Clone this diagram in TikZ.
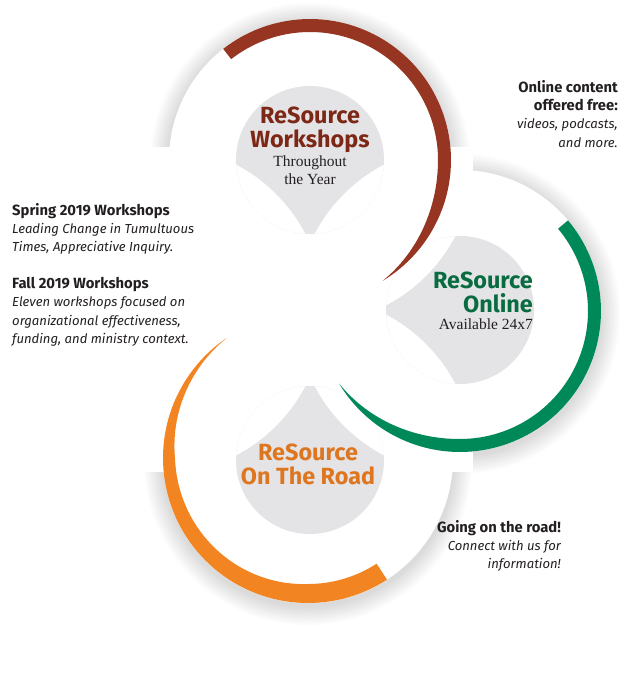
\documentclass[tikz,border=0pt]{standalone}
\usepackage{fontspec}
\setsansfont{Fira Sans}
\newfontfamily\titleserif{Liberation Serif}
\usetikzlibrary{positioning}

\definecolor{wsbrown}{RGB}{150,54,34}
\definecolor{wstext}{RGB}{125,40,22}
\definecolor{olgreen}{RGB}{0,137,88}
\definecolor{oltext}{RGB}{8,108,64}
\definecolor{rdorange}{RGB}{243,132,34}
\definecolor{rdtext}{RGB}{222,118,32}
\definecolor{cardgray}{RGB}{228,228,230}
\definecolor{inkgray}{RGB}{35,31,32}

\newcommand{\notehead}[1]{{\bfseries\fontsize{14.8}{18.3}\selectfont #1}}
\newcommand{\notebody}[1]{{\itshape\fontsize{13.1}{18.3}\selectfont #1}}

\begin{document}
\begin{tikzpicture}[x=1pt,y=-1pt,
      disc/.style={fill=white},
      seed/.style={fill=cardgray},
      haze/.style={fill=black,opacity=0.01},
      heading/.style={font=\sffamily\bfseries\fontsize{23.4}{24}\selectfont, inner sep=0pt},
      subline/.style={font=\titleserif\fontsize{15.5}{18}\selectfont, inner sep=0pt, text=inkgray},
      aside/.style={font=\sffamily\fontsize{14}{18.3}\selectfont, inner sep=0pt, text=inkgray},
      declare function={wb(\t)=13*sin(min(90,(59-\t)/59*90));
                        wg(\t)=13*sin(min(90,(149-\t)/60*90));
                        wo(\t)=min(19,(236-\t)*0.214,12+(180-\t)*0.0778);}
    ]
    \useasboundingbox (0,0) rectangle (640,687);

    \coordinate (top) at (310,160);
    \coordinate (right) at (460,310);
    \coordinate (bottom) at (310,460);
    \coordinate (left) at (160,310);
    \coordinate (onlinec) at (460,311);
    \coordinate (roadc) at (308,458);

    % soft shadows, outer sides only
    \begin{scope}
        \clip (0,0) rectangle (640,147);
        \foreach \i in {1,...,12}
            \fill[haze] ([yshift=-3pt]top) circle ({141+1.6*\i});
    \end{scope}
    \begin{scope}
        \clip (473,0) rectangle (640,687);
        \foreach \i in {1,...,12}
            \fill[haze] ([yshift=-3pt]onlinec) circle ({141+1.6*\i});
    \end{scope}
    \begin{scope}
        \clip (0,472) rectangle (640,687);
        \foreach \i in {1,...,12}
            \fill[haze] ([yshift=-3pt]roadc) circle ({145+1.6*\i});
    \end{scope}

    % white discs
    \fill[disc] (top) circle (141);
    \fill[disc] (onlinec) circle (141);
    \fill[disc] (roadc) circle (145);

    % gray seeds
    \fill[seed] (top) circle (74);
    \fill[seed] (right) circle (74);
    \fill[seed] (bottom) circle (74);
    \begin{scope}
        \clip (top) circle (74);
        \fill[white] (left) circle (164) (right) circle (164);
    \end{scope}
    \begin{scope}
        \clip (right) circle (74);
        \fill[white] (top) circle (164) (bottom) circle (164);
    \end{scope}
    \begin{scope}
        \clip (bottom) circle (74);
        \fill[white] (left) circle (164) (right) circle (164);
    \end{scope}

    % bands
    \begin{scope}[shift={(top)}]
        \fill[wsbrown] plot[domain=-128:59,samples=90] (\x:141)
            -- plot[domain=59:-128,samples=90] (\x:{141-wb(\x)}) -- cycle;
    \end{scope}
    \begin{scope}[shift={(onlinec)}]
        \fill[olgreen] plot[domain=-40:149,samples=90] (\x:141)
            -- plot[domain=149:-40,samples=90] (\x:{141-wg(\x)}) -- cycle;
    \end{scope}
    \begin{scope}[shift={(roadc)}]
        \fill[rdorange] plot[domain=57:236,samples=90] (\x:145)
            -- plot[domain=236:57,samples=90] (\x:{145-wo(\x)}) -- cycle;
    \end{scope}

    % titles
    \node[heading, text=wstext, align=center, anchor=north] (wstitle) at (310,107)
        {ReSource\\Workshops};
    \node[subline, align=center, anchor=north] (wssub) at (310,156)
        {Throughout\\the Year};
    \node[heading, text=oltext, align=right, anchor=north east] (oltitle) at (533,272)
        {ReSource\\Online};
    \node[subline, align=right, anchor=north east] (olsub) at (533,319)
        {Available 24x7};
    \node[heading, text=rdtext, align=center, anchor=north] (rdtitle) at (308,444)
        {ReSource\\On The Road};

    % side notes
    \node[aside, align=right, anchor=north east] (onlinenote) at (618,80)
        {\notehead{Online content}\\\notehead{offered free:}\\\notebody{videos, podcasts,}\\\notebody{and more.}};
    \node[aside, align=left, anchor=north west] (wsnote) at (12,203)
        {\notehead{Spring 2019 Workshops}\\\notebody{Leading Change in Tumultuous}\\\notebody{Times, Appreciative Inquiry.}\\[18.3pt]
         \notehead{Fall 2019 Workshops}\\\notebody{Eleven workshops focused on}\\\notebody{organizational effectiveness,}\\\notebody{funding, and ministry context.}};
    \node[aside, align=right, anchor=north east] (roadnote) at (561,520)
        {\notehead{Going on the road!}\\\notebody{Connect with us for}\\\notebody{information!}};
\end{tikzpicture}
\end{document}
